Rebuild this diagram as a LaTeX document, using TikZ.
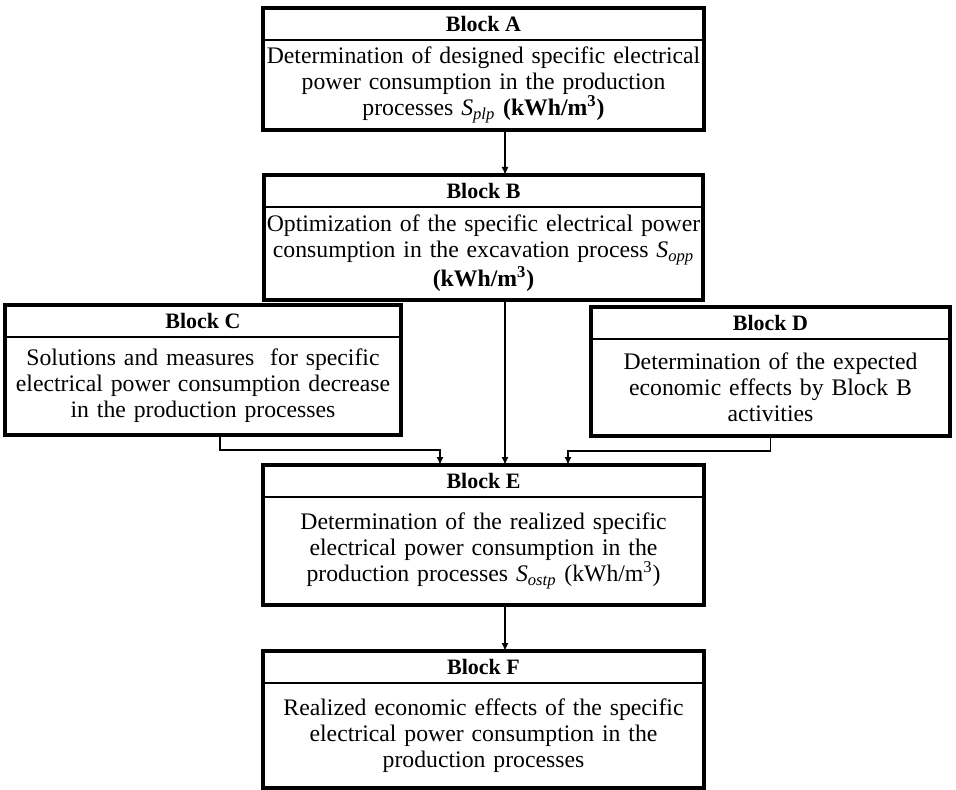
\documentclass[tikz,border=0pt]{standalone}
\usepackage{fontspec}
\setmainfont{Liberation Serif}
\usepackage{tikz}
\usetikzlibrary{arrows.meta,positioning}

\newcommand{\unitkwh}{(kWh/m\textsuperscript{3})}
\newcommand{\symS}[1]{\textit{S}\textsubscript{\textit{#1}}}

\begin{document}
\begin{tikzpicture}[
  blkhead/.style={draw=black, line width=0.7pt, inner sep=0pt, outer sep=0pt,
                  minimum height=0.64cm, font=\fontsize{12.5}{14}\selectfont\bfseries},
  blkbody/.style={draw=black, line width=0.7pt, inner xsep=0.04cm, inner ysep=2pt,
                  outer sep=0pt, align=center, font=\fontsize{13.5}{14.8}\selectfont},
  frame/.style={line width=2pt},
  link/.style={line width=0.9pt, -{Latex[length=1.6mm,width=1.4mm]}},
]
  \useasboundingbox (0,0) rectangle (19.12,-15.8);
  % Block A
  \node[blkhead, anchor=north west, minimum width=8.82cm] (aH) at (5.26,-0.16) {Block A};
  \node[blkbody, below=0pt of aH, text width=8.74cm, minimum height=1.8cm] (a)
    {Determination of designed specific electrical\\ power consumption in the production\\
     processes \symS{plp} \textbf{\unitkwh}};
  \draw[frame] (aH.north west) rectangle (a.south east);
  % Block B
  \node[blkhead, anchor=north west, minimum width=8.78cm] (bH) at (5.28,-3.5) {Block B};
  \node[blkbody, below=0pt of bH, text width=8.7cm, minimum height=1.86cm] (b)
    {Optimization of the specific electrical power\\ consumption in the excavation process \symS{opp}\\
     \textbf{\unitkwh}};
  \draw[frame] (bH.north west) rectangle (b.south east);
  % Block C
  \node[blkhead, anchor=north west, minimum width=7.92cm] (cH) at (0.1,-6.1) {Block C};
  \node[blkbody, below=0pt of cH, text width=7.84cm, minimum height=1.96cm] (c)
    {Solutions and measures\ \ for specific\\ electrical power consumption decrease\\
     in the production processes};
  \draw[frame] (cH.north west) rectangle (c.south east);
  % Block D
  \node[blkhead, anchor=north west, minimum width=7.18cm] (dH) at (11.82,-6.14) {Block D};
  \node[blkbody, below=0pt of dH, text width=7.1cm, minimum height=1.94cm] (d)
    {Determination of the expected\\ economic effects by Block B\\ activities};
  \draw[frame] (dH.north west) rectangle (d.south east);
  % Block E
  \node[blkhead, anchor=north west, minimum width=8.82cm] (eH) at (5.26,-9.3) {Block E};
  \node[blkbody, below=0pt of eH, text width=8.74cm, minimum height=2.16cm] (e)
    {Determination of the realized specific\\ electrical power consumption in the\\
     production processes \symS{ostp} \unitkwh};
  \draw[frame] (eH.north west) rectangle (e.south east);
  % Block F
  \node[blkhead, anchor=north west, minimum width=8.82cm] (fH) at (5.26,-13.02) {Block F};
  \node[blkbody, below=0pt of fH, text width=8.74cm, minimum height=2.1cm] (f)
    {Realized economic effects of the specific\\ electrical power consumption in the\\
     production processes};
  \draw[frame] (fH.north west) rectangle (f.south east);
  % connectors
  \draw[link] ([xshift=4.3mm]a.south) -- ([xshift=4.3mm]bH.north);
  \draw[link] ([xshift=4.3mm]b.south) -- ([xshift=4.3mm]eH.north);
  \draw[link] ([xshift=3.4mm]c.south) -- ++(0,-0.3) -| ([xshift=-8.7mm]eH.north);
  \draw[link] (d.south) -- ++(0,-0.3) -| ([xshift=16.9mm]eH.north);
  \draw[link] ([xshift=4.3mm]e.south) -- ([xshift=4.3mm]fH.north);
\end{tikzpicture}
\end{document}
